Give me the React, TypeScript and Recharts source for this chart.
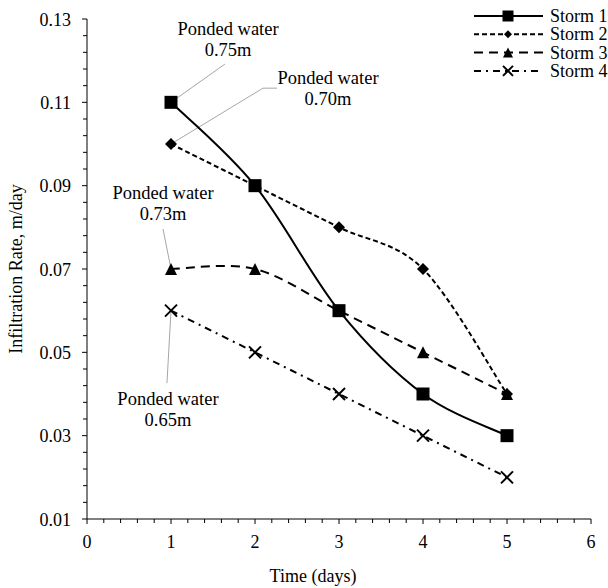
import React from 'react';
import { LineChart, Line, XAxis, YAxis, ReferenceLine, ReferenceDot } from 'recharts';

// ---- data ----
const days = [1, 2, 3, 4, 5];
const storm1 = [0.11, 0.09, 0.06, 0.04, 0.03];
const storm2 = [0.1, 0.09, 0.08, 0.07, 0.04];
const storm3 = [0.07, 0.07, 0.06, 0.05, 0.04];
const storm4 = [0.06, 0.05, 0.04, 0.03, 0.02];

const seriesNames = ['Storm 1', 'Storm 2', 'Storm 3', 'Storm 4'];
const xMajorTicks = [0, 1, 2, 3, 4, 5, 6];
const yMajorTicks = [0.01, 0.03, 0.05, 0.07, 0.09, 0.11, 0.13];

const xTitle = 'Time (days)';
const yTitle = 'Infiltration Rate, m/day';

// annotation texts and anchors (data coords)
const annotationLines = [
  ['Ponded water', '0.75m'],
  ['Ponded water', '0.70m'],
  ['Ponded water', '0.73m'],
  ['Ponded water', '0.65m'],
];
const annotationAnchors = [
  { x: 1.679, y: 0.1262 },
  { x: 2.869, y: 0.1144 },
  { x: 0.905, y: 0.0868 },
  { x: 0.964, y: 0.0374 },
];
const annotationLeaders = [
  [{ x: 1, y: 0.11 }, { x: 1.643, y: 0.1192 }],
  [{ x: 1, y: 0.1 }, { x: 2.095, y: 0.1134 }, { x: 2.262, y: 0.1134 }],
  [{ x: 0.905, y: 0.0796 }, { x: 1, y: 0.07 }],
  [{ x: 0.952, y: 0.0426 }, { x: 1, y: 0.06 }],
];

const data = days.map((d, i) => ({
  x: d,
  s1: storm1[i],
  s2: storm2[i],
  s3: storm3[i],
  s4: storm4[i],
}));

// minor ticks
const xTicks: number[] = [];
for (let i = 0; i < xMajorTicks.length - 1; i++) {
  for (let k = 0; k < 5; k++) xTicks.push(+(xMajorTicks[i] + (k * (xMajorTicks[i + 1] - xMajorTicks[i])) / 5).toFixed(4));
}
xTicks.push(xMajorTicks[xMajorTicks.length - 1]);
const yTicks: number[] = [];
for (let i = 0; i < yMajorTicks.length - 1; i++) {
  for (let k = 0; k < 5; k++) yTicks.push(+(yMajorTicks[i] + (k * (yMajorTicks[i + 1] - yMajorTicks[i])) / 5).toFixed(5));
}
yTicks.push(yMajorTicks[yMajorTicks.length - 1]);

const isMajor = (v: number, arr: number[]) => arr.some((m) => Math.abs(m - v) < 1e-6);

const FONT = "'Liberation Serif', 'Times New Roman', serif";
const FS = 18;
const FS_ANN = 18.5;

// Excel-like smooth curve (Catmull-Rom bezier)
function excelCurve(context: any) {
  let pts: [number, number][] = [];
  return {
    areaStart() {},
    areaEnd() {},
    lineStart() {
      pts = [];
    },
    lineEnd() {
      const n = pts.length;
      if (n === 0) return;
      context.moveTo(pts[0][0], pts[0][1]);
      for (let i = 0; i < n - 1; i++) {
        const p0 = pts[Math.max(0, i - 1)];
        const p1 = pts[i];
        const p2 = pts[i + 1];
        const p3 = pts[Math.min(n - 1, i + 2)];
        const c1x = p1[0] + (p2[0] - p0[0]) / 6;
        const c1y = p1[1] + (p2[1] - p0[1]) / 6;
        const c2x = p2[0] - (p3[0] - p1[0]) / 6;
        const c2y = p2[1] - (p3[1] - p1[1]) / 6;
        context.bezierCurveTo(c1x, c1y, c2x, c2y, p2[0], p2[1]);
      }
    },
    point(x: number, y: number) {
      pts.push([+x, +y]);
    },
  };
}

// markers
const Square = ({ cx, cy, s }: any) => <rect x={cx - s / 2} y={cy - s / 2} width={s} height={s} fill="#000" />;
const Diamond = ({ cx, cy, s }: any) => (
  <polygon points={`${cx},${cy - s / 2} ${cx + s / 2},${cy} ${cx},${cy + s / 2} ${cx - s / 2},${cy}`} fill="#000" />
);
const Triangle = ({ cx, cy, s }: any) => (
  <polygon points={`${cx},${cy - s / 2} ${cx + s / 2},${cy + s / 2} ${cx - s / 2},${cy + s / 2}`} fill="#000" />
);
const Cross = ({ cx, cy, s }: any) => (
  <g stroke="#000" strokeWidth={2}>
    <line x1={cx - s / 2} y1={cy - s / 2} x2={cx + s / 2} y2={cy + s / 2} />
    <line x1={cx - s / 2} y1={cy + s / 2} x2={cx + s / 2} y2={cy - s / 2} />
  </g>
);
const markers = [Square, Diamond, Triangle, Cross];
const plotMarkerSize = [13, 12, 12, 12];
const legendMarkerSize = [11, 8, 10, 10];
const dashes = [undefined, '5 3', '9 6', '7 5 2 5'];
const keys = ['s1', 's2', 's3', 's4'];

const XTick = (props: any) => {
  const { x, y, payload } = props;
  const major = isMajor(payload.value, xMajorTicks);
  return (
    <g>
      <line x1={x} y1={y} x2={x} y2={y + (major ? 5 : 4)} stroke="#000" strokeWidth={1} />
      {major && (
        <text x={x} y={y + 29} textAnchor="middle" fontFamily={FONT} fontSize={FS} fill="#000">
          {payload.value}
        </text>
      )}
    </g>
  );
};

const YTick = (props: any) => {
  const { x, y, payload } = props;
  const major = isMajor(payload.value, yMajorTicks);
  return (
    <g>
      <line x1={x - (major ? 5 : 4)} y1={y} x2={x} y2={y} stroke="#000" strokeWidth={1} />
      {major && (
        <text x={x - 16} y={y + 6.5} textAnchor="end" fontFamily={FONT} fontSize={FS} fill="#000">
          {payload.value.toFixed(2)}
        </text>
      )}
    </g>
  );
};

const Legend = () => (
  <svg width={608} height={90} style={{ position: 'absolute', left: 0, top: 0, pointerEvents: 'none' }}>
    {seriesNames.map((name, i) => {
      const cy = 16 + i * 18.3;
      const M = markers[i];
      return (
        <g key={name}>
          <line x1={474} y1={cy} x2={543} y2={cy} stroke="#000" strokeWidth={2} strokeDasharray={dashes[i]} />
          <M cx={508} cy={cy} s={legendMarkerSize[i]} />
          <text x={550} y={cy + 6} fontFamily={FONT} fontSize={FS} fill="#000">
            {name}
          </text>
        </g>
      );
    })}
  </svg>
);

export default function App() {
  return (
    <div style={{ position: 'absolute', left: 0, top: 0, width: 608, height: 588, background: '#fff' }}>
      <LineChart width={608} height={588} data={data} margin={{ top: 19, right: 17, bottom: 0, left: 0 }}>
        <XAxis
          dataKey="x"
          type="number"
          domain={[0, 6]}
          ticks={xTicks}
          interval={0}
          tickSize={0}
          tickMargin={0}
          tickLine={false}
          tick={<XTick />}
          height={69}
          axisLine={{ stroke: '#000', strokeWidth: 1 }}
          allowDataOverflow
          label={{
            content: (p: any) => {
              const vb = p.viewBox;
              return (
                <text x={vb.x + vb.width / 2 - 26} y={vb.y + 63} textAnchor="middle" fontFamily={FONT} fontSize={FS} fill="#000">
                  {xTitle}
                </text>
              );
            },
          }}
        />
        <YAxis
          type="number"
          domain={[0.01, 0.13]}
          ticks={yTicks}
          interval={0}
          tickSize={0}
          tickMargin={0}
          tickLine={false}
          tick={<YTick />}
          width={87}
          axisLine={{ stroke: '#000', strokeWidth: 1 }}
          allowDataOverflow
          label={{
            content: (p: any) => {
              const vb = p.viewBox;
              const cx = vb.x + 16;
              const cy = vb.y + vb.height / 2;
              return (
                <text
                  x={cx}
                  y={cy}
                  transform={`rotate(-90 ${cx} ${cy})`}
                  textAnchor="middle"
                  dominantBaseline="central"
                  fontFamily={FONT}
                  fontSize={FS}
                  fill="#000"
                >
                  {yTitle}
                </text>
              );
            },
          }}
        />
        {annotationLeaders.map((pts, i) =>
          pts.slice(0, -1).map((p, j) => (
            <ReferenceLine
              key={`l${i}-${j}`}
              segment={[p, pts[j + 1]]}
              stroke="#a6a6a6"
              strokeWidth={1}
              ifOverflow="visible"
            />
          ))
        )}
        {annotationAnchors.map((a, i) => (
          <ReferenceDot
            key={`a${i}`}
            x={a.x}
            y={a.y}
            r={0}
            ifOverflow="visible"
            shape={(p: any) => (
              <text x={p.cx} y={p.cy} textAnchor="middle" fontFamily={FONT} fontSize={FS_ANN} fill="#000">
                <tspan x={p.cx}>{annotationLines[i][0]}</tspan>
                <tspan x={p.cx} dy={21}>
                  {annotationLines[i][1]}
                </tspan>
              </text>
            )}
          />
        ))}
        {keys.map((k, i) => {
          const M = markers[i];
          return (
            <Line
              key={k}
              dataKey={k}
              type={excelCurve as any}
              stroke="#000"
              strokeWidth={2}
              strokeDasharray={dashes[i]}
              isAnimationActive={false}
              dot={(p: any) => <M key={`${k}-${p.index}`} cx={p.cx} cy={p.cy} s={plotMarkerSize[i]} />}
              activeDot={false}
            />
          );
        })}
      </LineChart>
      <Legend />
    </div>
  );
}
